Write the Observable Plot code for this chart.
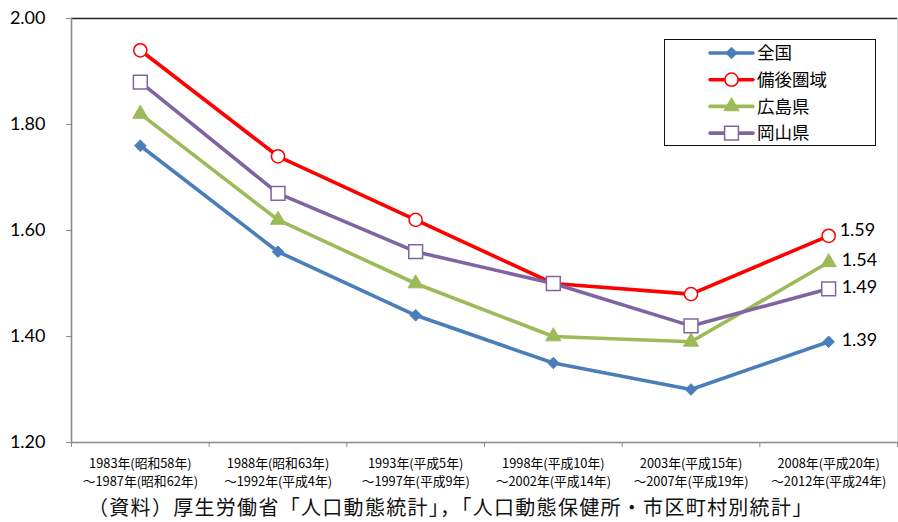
<!DOCTYPE html>
<html>
<head>
<meta charset="utf-8">
<script src="https://cdn.jsdelivr.net/npm/d3@7"></script>
<script src="https://cdn.jsdelivr.net/npm/@observablehq/plot@0.6"></script>
<style>
  body { margin: 0; background: #fff; }
  #wrap { position: relative; width: 898px; height: 522px; overflow: hidden; }
  #chart svg { display: block; }
  #legend {
    position: absolute; left: 664px; top: 39px; width: 212px; height: 107px;
    border: 1.5px solid #111; background: #fff; box-sizing: border-box;
  }
  #caption {
    position: absolute; left: 88px; top: 495px; font-family: "Noto Sans CJK JP", sans-serif;
    font-size: 20px; line-height: 24px; letter-spacing: 1.3px; color: #111; white-space: nowrap;
  }
</style>
</head>
<body>
<div id="wrap">
  <div id="chart"></div>
  <div id="legend"></div>
  <div id="caption"></div>
</div>
<script>
// Total fertility rate (Bayesian estimates), five-year periods
const periods = [
  "1983年(昭和58年)\n～1987年(昭和62年)",
  "1988年(昭和63年)\n～1992年(平成4年)",
  "1993年(平成5年)\n～1997年(平成9年)",
  "1998年(平成10年)\n～2002年(平成14年)",
  "2003年(平成15年)\n～2007年(平成19年)",
  "2008年(平成20年)\n～2012年(平成24年)"
];
const seriesNames = ["全国", "備後圏域", "広島県", "岡山県"];
const zenkoku   = [1.76, 1.56, 1.44, 1.35, 1.30, 1.39];
const bingo     = [1.94, 1.74, 1.62, 1.50, 1.48, 1.59];
const hiroshima = [1.82, 1.62, 1.50, 1.40, 1.39, 1.54];
const okayama   = [1.88, 1.67, 1.56, 1.50, 1.42, 1.49];
const yTicks = [1.20, 1.40, 1.60, 1.80, 2.00];
const captionText = "（資料）厚生労働省「人口動態統計」，「人口動態保健所・市区町村別統計」";

// Per-series styling
const styles = {
  "全国":   {color: "#4A7EBB", symbol: "diamond2", fill: "#4A7EBB", r: 5.2, sw: 1},
  "備後圏域": {color: "#FF0000", symbol: "circle",   fill: "#fff",    r: 6.6, sw: 1.5},
  "広島県":  {color: "#9BBB59", symbol: "triangle", fill: "#9BBB59", r: 5.6, sw: 1},
  "岡山県":  {color: "#8064A2", symbol: "square",   fill: "#fff",    r: 7.8, sw: 1.5}
};
const values = {"全国": zenkoku, "備後圏域": bingo, "広島県": hiroshima, "岡山県": okayama};

const rows = seriesNames.flatMap(s => values[s].map((v, i) => ({s, i, v})));
const last = rows.filter(d => d.i === periods.length - 1 && d.s !== "備後圏域");
const lastBingo = rows.filter(d => d.i === periods.length - 1 && d.s === "備後圏域");

const idx = d3.range(periods.length);
const bounds = d3.range(periods.length + 1).map(i => i - 0.5);
const axisGray = "#8a8a8a";
const numFont = "Lato, 'Open Sans', sans-serif";

const marks = [
  // frame pieces
  Plot.ruleY([2.0], {stroke: "#222", strokeWidth: 1.6}),
  Plot.ruleX([periods.length - 0.5], {stroke: "#d9d9d9", strokeWidth: 1}),
  Plot.ruleX([-0.5], {stroke: axisGray, strokeWidth: 1.6}),
  Plot.ruleY([1.2], {stroke: axisGray, strokeWidth: 1.6}),
  Plot.axisY(yTicks, {
    label: null, tickFormat: d3.format(".2f"), tickSize: 5, tickPadding: 21,
    stroke: axisGray, fill: "#000", fontSize: 18, fontFamily: numFont
  }),
  Plot.axisX(bounds, {label: null, tickSize: 5, tickFormat: () => "", stroke: axisGray}),
  Plot.axisX(idx, {
    label: null, tickSize: 0, tickPadding: 13, tickFormat: i => periods[i],
    fontSize: 12.8, lineHeight: 1.4, fill: "#000",
    fontFamily: "'Noto Sans CJK JP', sans-serif"
  })
];

for (const s of seriesNames) {
  const st = styles[s];
  const data = rows.filter(d => d.s === s);
  marks.push(Plot.line(data, {x: "i", y: "v", stroke: st.color, strokeWidth: 3.6, curve: "linear"}));
}
for (const s of seriesNames) {
  const st = styles[s];
  const data = rows.filter(d => d.s === s);
  marks.push(Plot.dot(data, {
    x: "i", y: "v", symbol: () => st.symbol, r: st.r,
    fill: st.fill, stroke: st.color, strokeWidth: st.sw
  }));
}
marks.push(
  Plot.text(last, {x: "i", y: "v", text: d => d.v.toFixed(2), dx: 13, dy: -2,
    textAnchor: "start", fontSize: 18, fontFamily: numFont, fill: "#000"}),
  Plot.text(lastBingo, {x: "i", y: "v", text: d => d.v.toFixed(2), dx: 11, dy: -6,
    textAnchor: "start", fontSize: 18, fontFamily: numFont, fill: "#000"})
);

const chart = Plot.plot({
  width: 898,
  height: 492,
  marginLeft: 71,
  marginRight: 1,
  marginTop: 18,
  marginBottom: 50,
  x: {type: "linear", domain: [-0.5, periods.length - 0.5], axis: null},
  y: {domain: [1.2, 2.0], axis: null},
  symbol: {type: "identity"},
  style: {background: "#fff", overflow: "visible"},
  marks
});
document.getElementById("chart").append(chart);

// Legend
const legend = d3.select("#legend");
const lg = legend.append("svg").attr("width", 212).attr("height", 107)
  .style("position", "absolute").style("left", "-1.5px").style("top", "-1.5px");
const symMap = {diamond2: d3.symbolDiamond2, circle: d3.symbolCircle, triangle: d3.symbolTriangle, square: d3.symbolSquare};
seriesNames.forEach((s, k) => {
  const st = styles[s];
  const y = 14 + k * 26.7;
  const g = lg.append("g").attr("transform", `translate(0,${y})`);
  g.append("line").attr("x1", 46).attr("x2", 89).attr("y1", 0).attr("y2", 0)
    .attr("stroke", st.color).attr("stroke-width", 3.6).attr("stroke-linecap", "round");
  g.append("path").attr("transform", "translate(67.5,0)")
    .attr("d", d3.symbol(symMap[st.symbol], Math.PI * st.r * st.r)())
    .attr("fill", st.fill).attr("stroke", st.color).attr("stroke-width", st.sw);
  g.append("text").attr("x", 93).attr("y", 0).attr("dy", "0.36em")
    .attr("font-family", "'Noto Sans CJK JP', sans-serif").attr("font-size", 17.5)
    .attr("fill", "#000").text(s);
});

document.getElementById("caption").textContent = captionText;
</script>
</body>
</html>
